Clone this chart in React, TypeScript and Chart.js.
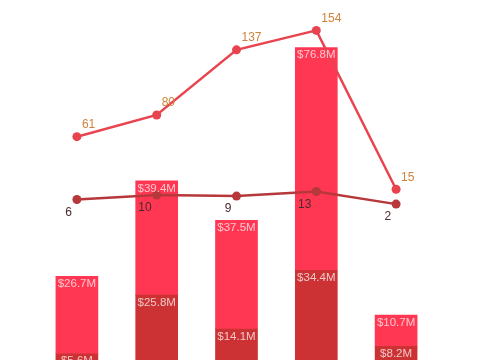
import React, { useEffect, useRef } from "react";
import { Chart, registerables } from "chart.js";

Chart.register(...registerables);

const categories = ["A", "B", "C", "D", "E"];
const darkBarValues = [5.6, 25.8, 14.1, 34.4, 8.2];
const brightBarValues = [26.7, 39.4, 37.5, 76.8, 10.7];
const upperLineValues = [61, 80, 137, 154, 15];
const lowerLineValues = [6, 10, 9, 13, 2];

const BRIGHT = "#FF3752";
const DARK = "#CC3234";
const UPPER_LINE = "#E8444F";
const LOWER_LINE = "#B6383A";

const labelPlugin = {
  id: "valueLabels",
  afterDatasetsDraw(chart: any) {
    const ctx = chart.ctx;
    ctx.save();
    chart.data.datasets.forEach((ds: any, di: number) => {
      const meta = chart.getDatasetMeta(di);
      meta.data.forEach((el: any, i: number) => {
        const v = ds.data[i];
        if (ds.type === "bar") {
          ctx.font = "11.5px 'Liberation Sans', Arial, sans-serif";
          ctx.fillStyle = "rgba(255,255,255,0.72)";
          ctx.textAlign = "center";
          ctx.textBaseline = "middle";
          ctx.fillText("$" + v.toFixed(1) + "M", el.x, el.y + 7.5);
        } else if (ds.labelPos === "upper") {
          ctx.font = "12px 'Liberation Sans', Arial, sans-serif";
          ctx.fillStyle = "#D0823A";
          ctx.textAlign = "left";
          ctx.textBaseline = "middle";
          ctx.fillText(String(v), el.x + 5, el.y - 12);
        } else {
          ctx.font = "12px 'Liberation Sans', Arial, sans-serif";
          ctx.fillStyle = "#4A2A2C";
          ctx.textAlign = "right";
          ctx.textBaseline = "middle";
          ctx.fillText(String(v), el.x - 5, el.y + 13);
        }
      });
    });
    ctx.restore();
  },
};

export default function App() {
  const ref = useRef<HTMLCanvasElement>(null);
  useEffect(() => {
    if (!ref.current) return;
    const chart = new Chart(ref.current, {
      type: "bar",
      data: {
        labels: categories,
        datasets: [
          {
            type: "line",
            labelPos: "upper",
            data: upperLineValues,
            borderColor: UPPER_LINE,
            backgroundColor: UPPER_LINE,
            borderWidth: 2.5,
            pointRadius: 4.5,
            pointBackgroundColor: UPPER_LINE,
            pointBorderWidth: 0,
            yAxisID: "y1",
            order: 0,
            tension: 0,
            clip: false,
          } as any,
          {
            type: "line",
            labelPos: "lower",
            data: lowerLineValues,
            borderColor: LOWER_LINE,
            backgroundColor: LOWER_LINE,
            borderWidth: 2.5,
            pointRadius: 4.5,
            pointBackgroundColor: LOWER_LINE,
            pointBorderWidth: 0,
            yAxisID: "y1",
            order: 1,
            tension: 0,
            clip: false,
          } as any,
          {
            type: "bar",
            data: darkBarValues,
            backgroundColor: DARK,
            borderWidth: 0,
            barThickness: 42,
            yAxisID: "y",
            order: 2,
            clip: false,
          } as any,
          {
            type: "bar",
            data: brightBarValues,
            backgroundColor: BRIGHT,
            borderWidth: 0,
            barThickness: 42,
            yAxisID: "y",
            order: 3,
            clip: false,
          } as any,
        ],
      },
      options: {
        animation: false,
        responsive: false,
        maintainAspectRatio: false,
        layout: { autoPadding: false, padding: { left: 37, right: 49, top: 0, bottom: 0 } },
        plugins: { legend: { display: false }, tooltip: { enabled: false } },
        scales: {
          x: { display: false, stacked: true, offset: true },
          y: { display: false, stacked: true, min: 3.45, max: 127.6 },
          y1: { display: false, min: -134.4, max: 180.6 },
        },
      },
      plugins: [labelPlugin],
    });
    return () => chart.destroy();
  }, []);
  return (
    <div style={{ position: "absolute", left: 0, top: 0, width: 485, height: 360 }}>
      <canvas ref={ref} width={485} height={360} style={{ display: "block" }} />
    </div>
  );
}
